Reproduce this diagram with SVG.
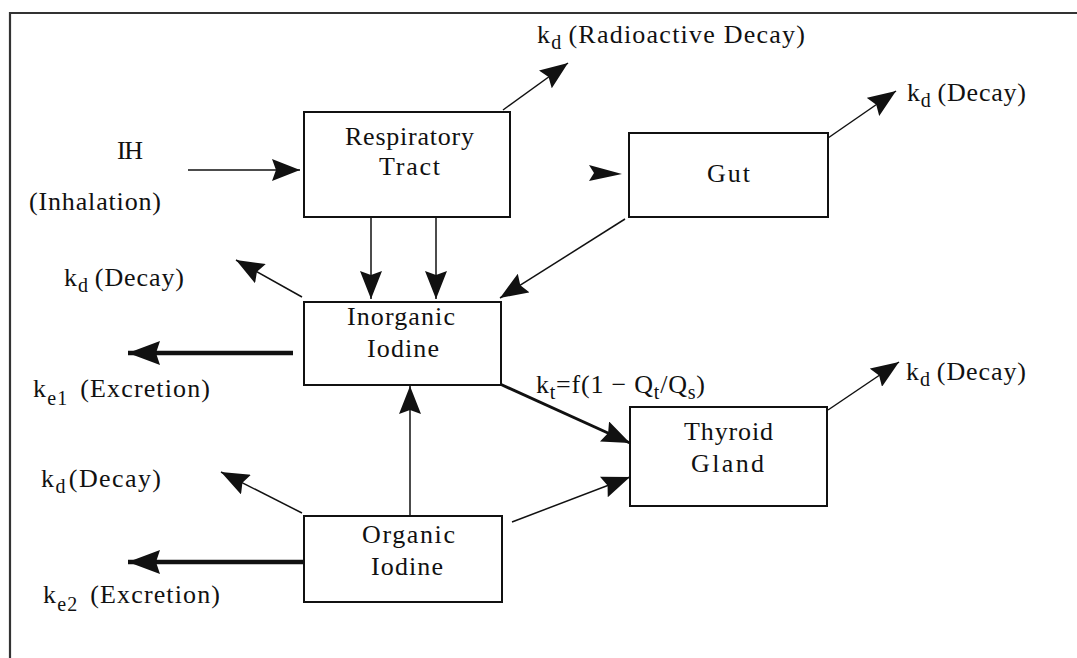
<svg xmlns="http://www.w3.org/2000/svg" width="1077" height="658" viewBox="0 0 1077 658">
<style>
text{font-family:"Liberation Serif","Times New Roman",serif;font-size:26px;fill:#111}
.sub{font-size:20px}
.box{fill:#fff;stroke:#111;stroke-width:2}
.c{fill:none;stroke:#111;stroke-width:1.5}
.th{fill:none;stroke:#111;stroke-width:3}
.tk{fill:none;stroke:#111;stroke-width:4.5}
</style>
<defs>
<marker id="am" markerUnits="userSpaceOnUse" markerWidth="28" markerHeight="22" refX="28" refY="11" orient="auto" viewBox="0 0 28 22"><path d="M0,0 L28,11 L0,22 L4,11 z" fill="#111"/></marker>
<marker id="ab" markerUnits="userSpaceOnUse" markerWidth="32" markerHeight="24" refX="32" refY="12" orient="auto" viewBox="0 0 32 24"><path d="M0,0 L32,12 L0,24 L4,12 z" fill="#111"/></marker>
</defs>
<rect width="1077" height="658" fill="#fff"/>
<path d="M10,660 L10,13 L1080,13" fill="none" stroke="#333" stroke-width="2.2"/>

<g id="connectors">
<line class="c" x1="188" y1="170" x2="300" y2="170" marker-end="url(#am)"/>
<line class="c" x1="371" y1="217" x2="371" y2="299" marker-end="url(#am)"/>
<line class="c" x1="436" y1="217" x2="436" y2="299" marker-end="url(#am)"/>
<line class="c" x1="625" y1="219" x2="500" y2="298" marker-end="url(#am)"/>
<line class="c" x1="503" y1="110" x2="568" y2="63" marker-end="url(#am)"/>
<line class="c" x1="828" y1="138" x2="896" y2="91" marker-end="url(#am)"/>
<path d="M589,165 L622,174 L589,181 L594,173 z" fill="#111"/>
<line class="c" x1="302" y1="297" x2="236" y2="260" marker-end="url(#am)"/>
<line class="tk" x1="293" y1="353" x2="128" y2="353" marker-end="url(#ab)"/>
<line class="th" x1="500" y1="384" x2="630" y2="443" marker-end="url(#am)"/>
<line class="c" x1="410" y1="515" x2="410" y2="386" marker-end="url(#am)"/>
<line class="c" x1="302" y1="513" x2="221" y2="472" marker-end="url(#am)"/>
<line class="tk" x1="307" y1="562" x2="128" y2="562" stroke-width="5" marker-end="url(#ab)"/>
<line class="c" x1="512" y1="522" x2="630" y2="477" marker-end="url(#am)"/>
<line class="c" x1="828" y1="410" x2="899" y2="362" marker-end="url(#am)"/>
</g>

<g id="respiratory">
<rect class="box" x="304" y="112" width="206" height="105"/>
<text x="345" y="145" textLength="129" lengthAdjust="spacing">Respiratory</text>
<text x="379" y="175" textLength="61" lengthAdjust="spacing">Tract</text>
</g>
<g id="gut">
<rect class="box" x="629" y="133" width="199" height="84"/>
<text x="707" y="182" textLength="43" lengthAdjust="spacing">Gut</text>
</g>
<g id="inorganic">
<rect class="box" x="304" y="302" width="197" height="83"/>
<text x="347" y="325" textLength="108" lengthAdjust="spacing">Inorganic</text>
<text x="367" y="357" textLength="72" lengthAdjust="spacing">Iodine</text>
</g>
<g id="organic">
<rect class="box" x="304" y="516" width="198" height="86"/>
<text x="362" y="543" textLength="93" lengthAdjust="spacing">Organic</text>
<text x="371" y="575" textLength="72" lengthAdjust="spacing">Iodine</text>
</g>
<g id="thyroid">
<rect class="box" x="630" y="407" width="197" height="99"/>
<text x="684" y="440" textLength="89" lengthAdjust="spacing">Thyroid</text>
<text x="691" y="472" textLength="73" lengthAdjust="spacing">Gland</text>
</g>

<g id="labels">
<text x="117" y="159" textLength="26" lengthAdjust="spacing">IH</text>
<text x="29" y="210" textLength="132" lengthAdjust="spacing">(Inhalation)</text>
<text x="537" y="43" textLength="268" lengthAdjust="spacing">k<tspan class="sub" dy="6">d</tspan><tspan dy="-6" dx="6">(Radioactive Decay)</tspan></text>
<text x="907" y="101" textLength="119" lengthAdjust="spacing">k<tspan class="sub" dy="6">d</tspan><tspan dy="-6" dx="6">(Decay)</tspan></text>
<text x="64" y="286" textLength="120" lengthAdjust="spacing">k<tspan class="sub" dy="6">d</tspan><tspan dy="-6" dx="6">(Decay)</tspan></text>
<text x="33" y="397" textLength="177" lengthAdjust="spacing">k<tspan class="sub" dy="8">e1</tspan><tspan dy="-8" dx="12">(Excretion)</tspan></text>
<text x="536" y="393" textLength="169" lengthAdjust="spacing">k<tspan class="sub" dy="6">t</tspan><tspan dy="-6">=f(1 − Q</tspan><tspan class="sub" dy="6">t</tspan><tspan dy="-6">/Q</tspan><tspan class="sub" dy="6">s</tspan><tspan dy="-6">)</tspan></text>
<text x="906" y="380" textLength="120" lengthAdjust="spacing">k<tspan class="sub" dy="6">d</tspan><tspan dy="-6" dx="6">(Decay)</tspan></text>
<text x="41" y="487" textLength="120" lengthAdjust="spacing">k<tspan class="sub" dy="6">d</tspan><tspan dy="-6" dx="2">(Decay)</tspan></text>
<text x="43" y="603" textLength="177" lengthAdjust="spacing">k<tspan class="sub" dy="8">e2</tspan><tspan dy="-8" dx="12">(Excretion)</tspan></text>
</g>
</svg>
